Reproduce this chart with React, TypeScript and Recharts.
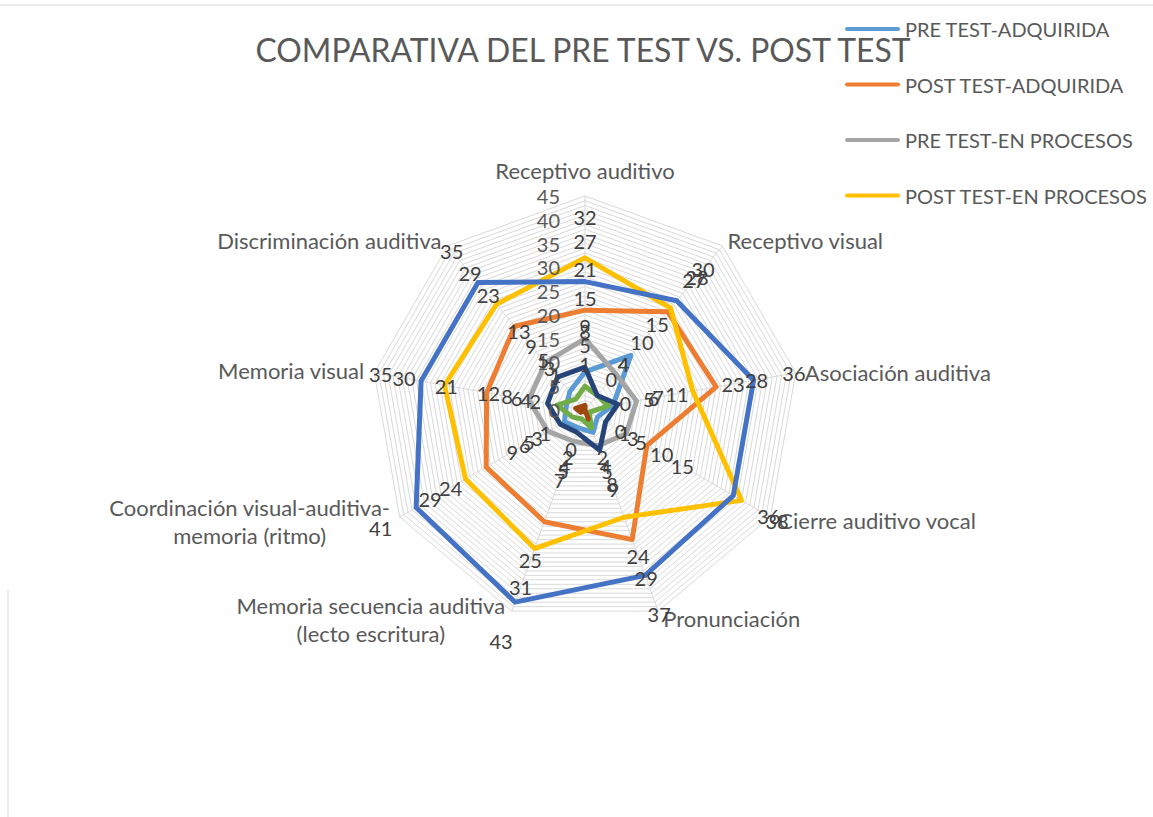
import React from "react";
import {
  PolarAngleAxis,
  PolarGrid,
  PolarRadiusAxis,
  Radar,
  RadarChart,
} from "recharts";

// categories (clockwise from the top)
const categories = [
  "Receptivo auditivo",
  "Receptivo visual",
  "Asociación auditiva",
  "Cierre auditivo vocal",
  "Pronunciación",
  "Memoria secuencia auditiva (lecto escritura)",
  "Coordinación visual-auditiva-memoria (ritmo)",
  "Memoria visual",
  "Discriminación auditiva",
];

// series values
const preAdquirida = [8, 15, 6, 3, 5, 4, 5, 4, 5];
const postAdquirida = [21, 27, 28, 15, 29, 25, 24, 21, 23];
const preEnProceso = [15, 10, 11, 10, 8, 7, 9, 12, 13];
const postEnProceso = [32, 28, 23, 38, 24, 31, 29, 30, 29];
const preInicio = [27, 30, 36, 36, 37, 43, 41, 35, 35];
const postInicio = [5, 4, 5, 1, 4, 2, 3, 6, 3];
const preNoLogrado = [9, 4, 7, 5, 9, 5, 6, 8, 9];
const postNoLogrado = [1, 0, 0, 0, 2, 0, 1, 2, 1];

const seriesNames = [
  "PRE TEST-ADQUIRIDA",
  "POST TEST-ADQUIRIDA",
  "PRE TEST-EN PROCESOS",
  "POST TEST-EN PROCESOS",
  "PRE TEST-INICIO",
  "POST TEST-INICIO",
  "PRE TEST-NO LOGRADO",
  "POST TEST-NO LOGRADO",
];
const seriesValues = [
  preAdquirida,
  postAdquirida,
  preEnProceso,
  postEnProceso,
  preInicio,
  postInicio,
  preNoLogrado,
  postNoLogrado,
];
const seriesColors = [
  "#5B9BD5",
  "#ED7D31",
  "#A5A5A5",
  "#FFC000",
  "#4472C4",
  "#70AD47",
  "#264478",
  "#9E480E",
];

// radial axis: labelled every 5, a grid ring at every unit
const majorTicks = [0, 5, 10, 15, 20, 25, 30, 35, 40, 45];
const ringTicks = Array.from({ length: 46 }, (_, i) => i);

const data = categories.map((cat, i) => {
  const row: Record<string, string | number> = { cat };
  seriesValues.forEach((vals, s) => {
    row[`s${s}`] = vals[i];
  });
  return row;
});

const FONT = "Lato, 'Open Sans', sans-serif";
const CX = 585;
const CY = 410;
const R = 214;
const LABEL_OFFSET = 41;
const STEP = 360 / categories.length;

// where each category label sits relative to the outer ring vertex
const catLayout = [
  { anchor: "middle", dx: 0, dy: -26, lines: ["Receptivo auditivo"] },
  { anchor: "start", dx: 5, dy: -6, lines: ["Receptivo visual"] },
  { anchor: "start", dx: 9, dy: 0, lines: ["Asociación auditiva"] },
  { anchor: "start", dx: 8, dy: 3, lines: ["Cierre auditivo vocal"] },
  { anchor: "start", dx: 5, dy: 7, lines: ["Pronunciación"] },
  {
    anchor: "middle",
    dx: -141,
    dy: -6,
    lines: ["Memoria secuencia auditiva", "(lecto escritura)"],
  },
  {
    anchor: "middle",
    dx: -150,
    dy: -10,
    lines: ["Coordinación visual-auditiva-", "memoria (ritmo)"],
  },
  { anchor: "end", dx: -10, dy: -2, lines: ["Memoria visual"] },
  { anchor: "end", dx: -6, dy: -6, lines: ["Discriminación auditiva"] },
];

const AngleTick = (props: any) => {
  const { payload, index } = props;
  const a = (payload.coordinate * Math.PI) / 180;
  const vx = CX + Math.cos(a) * R;
  const vy = CY - Math.sin(a) * R;
  const lay = catLayout[index];
  return (
    <g>
      {lay.lines.map((line, li) => (
        <text
          key={li}
          x={vx + lay.dx}
          y={vy + lay.dy + li * 28}
          textAnchor={lay.anchor as any}
          dominantBaseline="central"
          fontSize={22}
          fill="#595959"
          fontFamily={FONT}
        >
          {line}
        </text>
      ))}
    </g>
  );
};

const RadiusTick = (props: any) => {
  const { x, y, payload } = props;
  if (!majorTicks.includes(payload.value)) return <g />;
  return (
    <text
      x={x - 25}
      y={y}
      textAnchor="end"
      dominantBaseline="central"
      fontSize={20}
      fill="#595959"
      fontFamily={FONT}
    >
      {payload.value}
    </text>
  );
};

// data labels sit a fixed distance outward from each point
const makeValueLabel = (s: number) => (props: any) => {
  const { cx, cy, index } = props;
  const a = ((90 - index * STEP) * Math.PI) / 180;
  return (
    <text
      key={`v-${s}-${index}`}
      x={cx + Math.cos(a) * LABEL_OFFSET}
      y={cy - Math.sin(a) * LABEL_OFFSET}
      textAnchor="middle"
      dominantBaseline="central"
      fontSize={20}
      fill="#404040"
      fontFamily={FONT}
    >
      {seriesValues[s][index]}
    </text>
  );
};

export default function App() {
  return (
    <div
      style={{
        position: "absolute",
        left: 0,
        top: 0,
        width: 1153,
        height: 817,
        background: "#fff",
      }}
    >
      <RadarChart
        width={1153}
        height={817}
        data={data}
        cx={CX}
        cy={CY}
        outerRadius={R}
        startAngle={90}
        endAngle={-270}
        margin={{ top: 0, right: 0, bottom: 0, left: 0 }}
      >
        <PolarGrid gridType="polygon" stroke="#D9D9D9" strokeWidth={1} />
        <PolarAngleAxis
          dataKey="cat"
          tick={<AngleTick />}
          tickLine={false}
          axisLine={false}
        />
        <PolarRadiusAxis
          angle={90}
          domain={[0, 45]}
          ticks={ringTicks as any}
          tick={<RadiusTick />}
          tickLine={false}
          axisLine={false}
        />
        {seriesNames.map((name, s) => (
          <Radar
            key={name}
            name={name}
            dataKey={`s${s}`}
            stroke={seriesColors[s]}
            strokeWidth={5}
            strokeLinejoin="round"
            fill="none"
            fillOpacity={0}
            dot={false}
            isAnimationActive={false}
          />
        ))}
        {seriesNames.map((name, s) => (
          <Radar
            key={`lbl-${name}`}
            dataKey={`s${s}`}
            stroke="transparent"
            strokeWidth={0}
            fill="none"
            fillOpacity={0}
            dot={makeValueLabel(s)}
            legendType="none"
            isAnimationActive={false}
          />
        ))}
      </RadarChart>

      <svg
        width={1153}
        height={817}
        style={{ position: "absolute", left: 0, top: 0, pointerEvents: "none" }}
      >
        <line x1={0} y1={5} x2={1153} y2={5} stroke="#D9D9D9" />
        <line x1={8} y1={590} x2={8} y2={817} stroke="#D9D9D9" />
        <text
          x={583}
          y={62}
          textAnchor="middle"
          fontSize={33}
          fill="#595959"
          fontFamily={FONT}
          textLength={655}
          lengthAdjust="spacingAndGlyphs"
        >
          COMPARATIVA DEL PRE TEST VS. POST TEST
        </text>
        {seriesNames.slice(0, 4).map((name, s) => (
          <g key={name}>
            <line
              x1={847}
              x2={898}
              y1={29 + s * 55.5}
              y2={29 + s * 55.5}
              stroke={seriesColors[s]}
              strokeWidth={4}
              strokeLinecap="round"
            />
            <text
              x={905}
              y={29 + s * 55.5}
              dominantBaseline="central"
              fontSize={20}
              fill="#595959"
              fontFamily={FONT}
            >
              {name}
            </text>
          </g>
        ))}
      </svg>
    </div>
  );
}
